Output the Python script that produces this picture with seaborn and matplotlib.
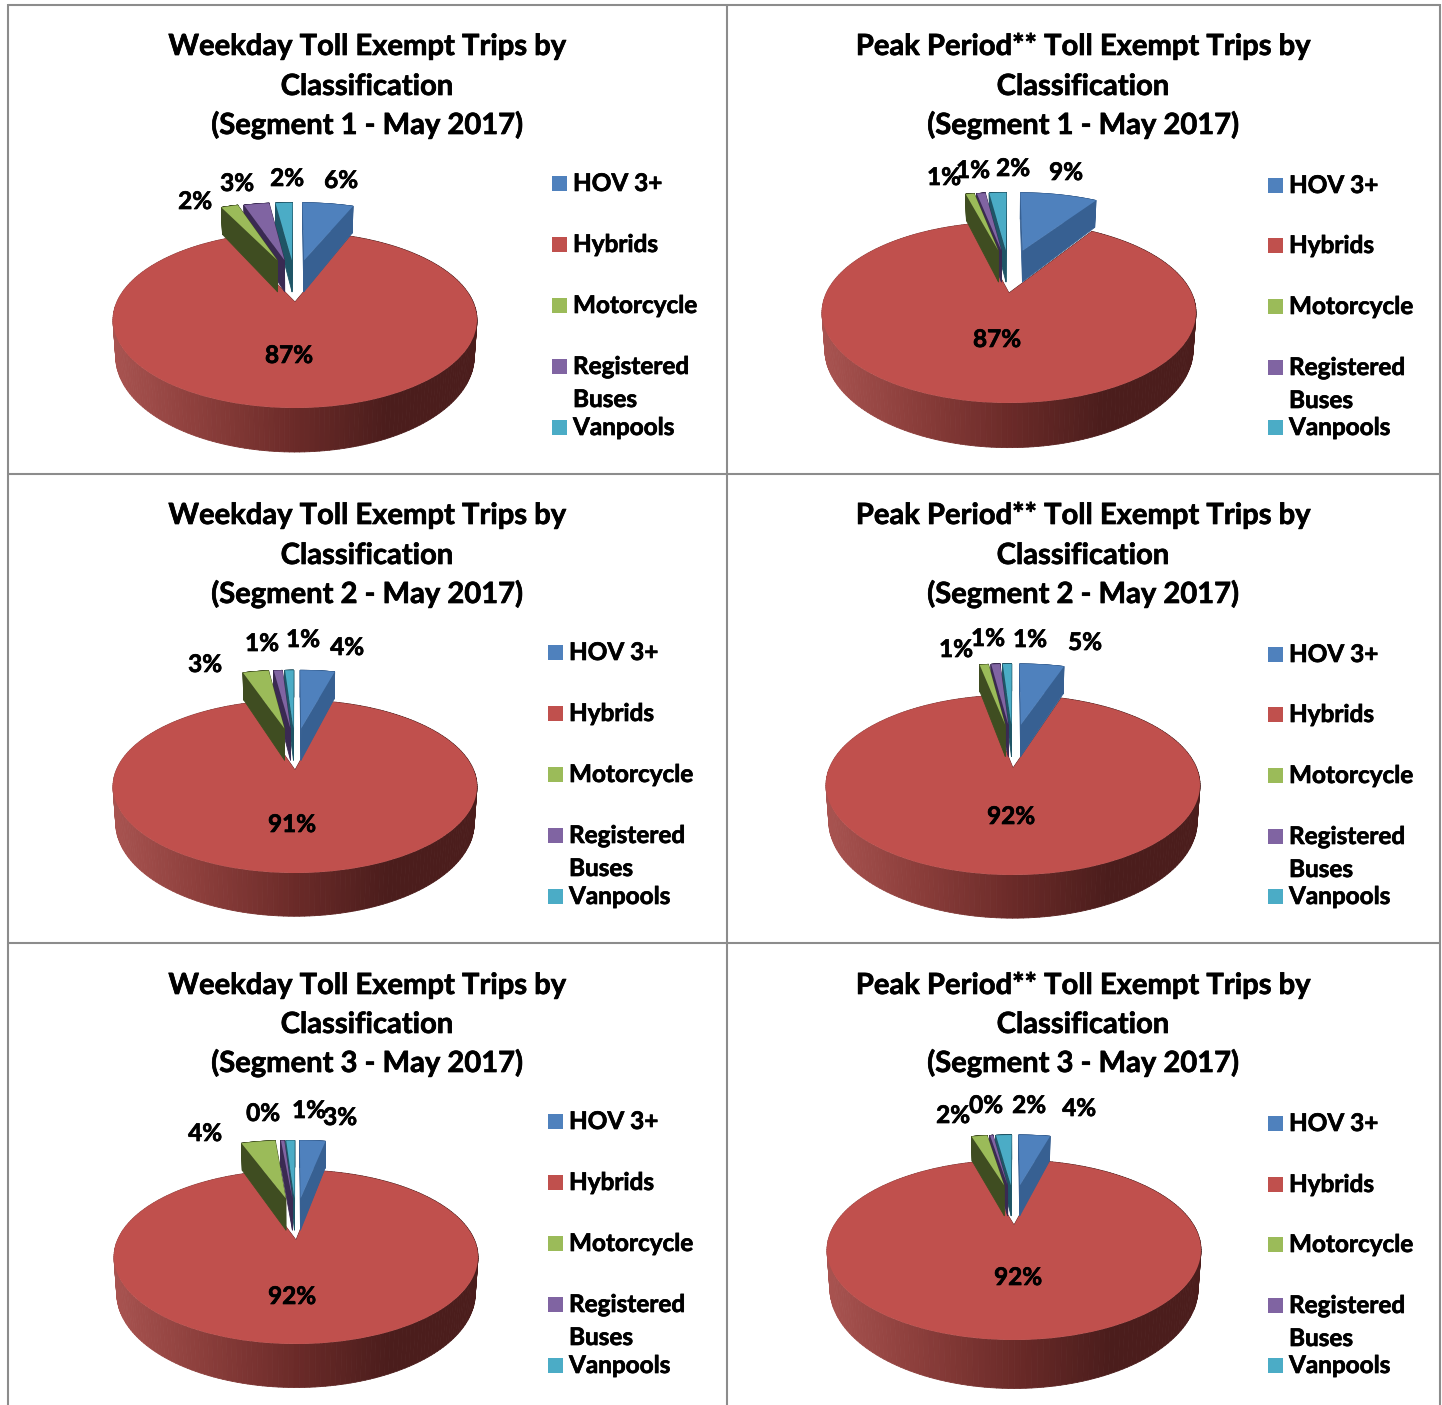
import numpy as np
import seaborn as sns
import matplotlib.pyplot as plt
import matplotlib.patheffects as pe
from matplotlib.collections import PolyCollection
from matplotlib.patches import Rectangle
from matplotlib.transforms import Transform

# classification order as in the legend
classes = ['HOV 3+', 'Hybrids', 'Motorcycle', 'Registered\nBuses', 'Vanpools']

weekday_seg1 = [6, 87, 2, 3, 2]
peak_seg1 = [9, 87, 1, 1, 2]
weekday_seg2 = [4, 91, 3, 1, 1]
peak_seg2 = [5, 92, 1, 1, 1]
weekday_seg3 = [3, 92, 4, 0.4, 1]
peak_seg3 = [4, 92, 2, 0.4, 2]

weekday_title = 'Weekday Toll Exempt Trips by\nClassification\n(Segment {} - May 2017)'
peak_title = 'Peak Period** Toll Exempt Trips by\nClassification\n(Segment {} - May 2017)'

top_colors = ['#4F81BD', '#C0504D', '#9BBB59', '#8064A2', '#4BACC6']
wall_colors = ['#376092', '#C0504D', '#3F4D21', '#3A2A52', '#1F5566']
border = '#8C8C8C'

WIDTH, HEIGHT = 1442, 1405
DEPTH = 35
# the small slices are pulled out of the pie, in pie radii
PULL_X = 0.3
PULL_Y = 0.55
HYBRIDS = 1

# one dict per panel, all layout in pixels of the final image
panels = [
    dict(values=weekday_seg1, title=weekday_title.format(1), title_x=367, title_y=[45, 85, 124],
         apex=(295, 302), rim=(232, 408), half=182,
         swatch_x=552, legend_y=[183, 244, 305, 366, 427],
         labels=[(341, 180), (289, 355), (195, 201), (237, 183), (287, 178)]),
    dict(values=peak_seg1, title=peak_title.format(1), title_x=1083, title_y=[45, 85, 124],
         apex=(1009, 293), rim=(222, 403), half=187,
         swatch_x=1268, legend_y=[185, 245, 306, 367, 427],
         labels=[(1066, 172), (997, 339), (944, 177), (973, 170), (1013, 168)]),
    dict(values=weekday_seg2, title=weekday_title.format(2), title_x=367, title_y=[514, 554, 593],
         apex=(295, 770), rim=(700, 873), half=182,
         swatch_x=548, legend_y=[652, 713, 774, 835, 896],
         labels=[(347, 647), (292, 824), (205, 664), (262, 643), (303, 639)]),
    dict(values=peak_seg2, title=peak_title.format(2), title_x=1083, title_y=[514, 554, 593],
         apex=(1013, 768), rim=(695, 875), half=187,
         swatch_x=1268, legend_y=[654, 714, 775, 836, 896],
         labels=[(1085, 642), (1011, 816), (956, 649), (988, 638), (1030, 639)]),
    dict(values=weekday_seg3, title=weekday_title.format(3), title_x=367, title_y=[984, 1023, 1062],
         apex=(296, 1240), rim=(1170, 1344), half=182,
         swatch_x=548, legend_y=[1121, 1182, 1243, 1304, 1365],
         labels=[(340, 1117), (292, 1296), (205, 1133), (263, 1113), (309, 1110)]),
    dict(values=peak_seg3, title=peak_title.format(3), title_x=1083, title_y=[984, 1023, 1062],
         apex=(1014, 1225), rim=(1160, 1340), half=187,
         swatch_x=1268, legend_y=[1123, 1184, 1244, 1305, 1365],
         labels=[(1079, 1108), (1018, 1277), (953, 1115), (986, 1105), (1029, 1105)]),
]

sns.set_theme(style='white')
plt.rcParams['font.family'] = ['Lato', 'DejaVu Sans']
plt.rcParams['font.weight'] = 'bold'

wall_cmap = sns.blend_palette(['#A85350', '#8A3D3A', '#6A2A28', '#4B1D1C', '#4B1D1C'], as_cmap=True)
# Calibri bold in the scan reads heavier than Lato bold
heavier = [pe.withStroke(linewidth=0.5, foreground='black')]


class Tilt(Transform):
    """Lays the flat pie down in perspective; the far edge shrinks."""
    input_dims = 2
    output_dims = 2

    def __init__(self, panel, shift=(0, 0), drop=0):
        super().__init__()
        cx, cy = panel['apex']
        far = cy - panel['rim'][0]
        near = panel['rim'][1] - cy
        self.cx, self.cy = cx, cy
        self.k = (near - far) / (near + far)
        self.ry = far * (1 + self.k)
        self.rx = panel['half'] * np.sqrt(1 - self.k ** 2)
        self.shift = shift
        self.drop = drop

    def transform_non_affine(self, values):
        x = values[:, 0] + self.shift[0]
        y = values[:, 1] + self.shift[1]
        w = 1 + self.k * y
        return np.column_stack([self.cx + self.rx * x / w,
                                self.cy + (self.drop - self.ry * y) / w])


def wedge_shift(wedge, i):
    if i == HYBRIDS:
        return (0, 0)
    mid = np.radians((wedge.theta1 + wedge.theta2) / 2)
    return (PULL_X * np.cos(mid), PULL_Y)


def wedge_outline(wedge):
    angles = np.radians(np.linspace(wedge.theta1, wedge.theta2, 240))
    arc = np.column_stack([np.cos(angles), np.sin(angles)]) * wedge.r
    return np.vstack([[0, 0], arc, [0, 0]])


def draw_walls(ax, panel, wedge, shift, color, zorder, gradient=False):
    outline = wedge_outline(wedge)
    top = Tilt(panel, shift).transform(outline)
    bottom = Tilt(panel, shift, DEPTH).transform(outline)
    # the foot of the wall pulls in a little
    bottom[:, 0] = panel['apex'][0] + (bottom[:, 0] - panel['apex'][0]) * 0.985
    quads = [[top[i], top[i + 1], bottom[i + 1], bottom[i]] for i in range(len(top) - 1)]
    if gradient:
        pos = (top[:-1, 0] - top[:, 0].min()) / (top[:, 0].max() - top[:, 0].min())
        colors = wall_cmap(pos)
    else:
        colors = color
    ax.add_collection(PolyCollection(quads, facecolors=colors, edgecolors=colors,
                                     linewidths=0.6, zorder=zorder))


def bold_text(ax, x, y, text, size, ha='left'):
    ax.text(x, y, text, ha=ha, va='baseline', fontsize=size, color='black',
            zorder=20, path_effects=heavier)


fig = plt.figure(figsize=(WIDTH / 100, HEIGHT / 100), dpi=100, facecolor='white')
ax = fig.add_axes([0, 0, 1, 1])

for panel in panels:
    wedges, _ = ax.pie(panel['values'], colors=top_colors, startangle=90, counterclock=False,
                       wedgeprops={'linewidth': 0})

    # Hybrids first, the pulled out slices stand on top of it from back to front
    for z, i in enumerate([HYBRIDS, 4, 3, 2, 0]):
        shift = wedge_shift(wedges[i], i)
        draw_walls(ax, panel, wedges[i], shift, wall_colors[i], 2 + 2 * z, gradient=i == HYBRIDS)
        wedges[i].set_transform(Tilt(panel, shift) + ax.transData)
        wedges[i].set_zorder(3 + 2 * z)

    for y, line in zip(panel['title_y'], panel['title'].split('\n')):
        bold_text(ax, panel['title_x'], y + 10, line, 21, ha='center')

    for value, (x, y) in zip(panel['values'], panel['labels']):
        bold_text(ax, x, y + 8, f'{value:.0f}%', 17.5, ha='center')

    text_x = panel['swatch_x'] + 21
    for name, color, y in zip(classes, top_colors, panel['legend_y']):
        ax.add_patch(Rectangle((panel['swatch_x'], y - 7.5), 15, 15, facecolor=color, linewidth=0))
        for n, line in enumerate(name.split('\n')):
            bold_text(ax, text_x, y + 8 + n * 33, line, 17.5)

ax.set_aspect('auto')
ax.set_xlim(0, WIDTH)
ax.set_ylim(HEIGHT, 0)
ax.set_axis_off()

# table rules between the charts
ax.vlines([8, 727, 1440], 4, HEIGHT, color=border, linewidth=1.5, zorder=30)
ax.hlines([5, 474, 943], 8, 1440, color=border, linewidth=1.5, zorder=30)

fig.savefig('out.png', dpi=100, facecolor='white')
plt.close(fig)
